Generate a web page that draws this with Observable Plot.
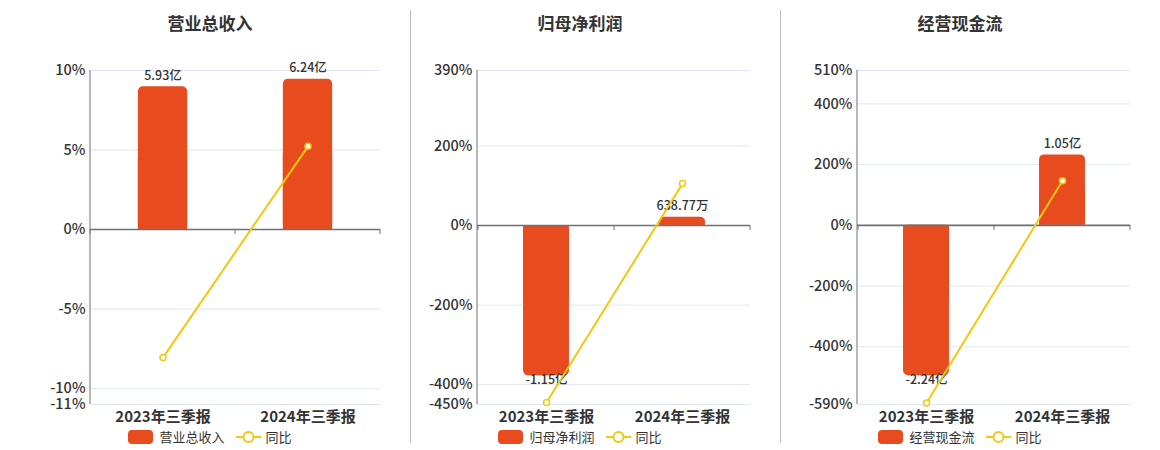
<!DOCTYPE html>
<html>
<head>
<meta charset="utf-8">
<script src="https://cdn.jsdelivr.net/npm/d3@7"></script>
<script src="https://cdn.jsdelivr.net/npm/@observablehq/plot@0.6"></script>
<style>
  html, body { margin: 0; padding: 0; background: #fff; }
  body { width: 1160px; height: 450px; position: relative; overflow: hidden;
         font-family: "Noto Sans CJK SC", "Noto Sans", sans-serif; color: #333; }
  .panel { position: absolute; top: 0; width: 342px; height: 450px; }
  .title { position: absolute; top: 10px; left: 0; width: 340px; text-align: center;
           font-size: 17px; font-weight: 700; color: #333; }
  .chart { position: absolute; top: 40px; left: 0; }
  .legend { position: absolute; top: 427px; left: 0; width: 340px; display: flex;
            justify-content: center; align-items: center; font-size: 13px; color: #333; }
  .sw { width: 25px; height: 14px; border-radius: 4px; background: #E84C1E; margin-right: 6px; }
  .ln { width: 25px; height: 14px; margin: 0 5px 0 11px; }
  .sep { position: absolute; top: 10px; width: 1px; height: 433px; background: #bdbdbd; }
</style>
</head>
<body>
<div class="sep" style="left:410px"></div>
<div class="sep" style="left:780px"></div>
<script>
const categories = ["2023年三季报", "2024年三季报"];
const titles = ["营业总收入", "归母净利润", "经营现金流"];
const barValues1 = [5.93, 6.24];
const barValues2 = [-1.15, 0.063877];
const barValues3 = [-2.24, 1.05];
const barLabels1 = ["5.93亿", "6.24亿"];
const barLabels2 = ["-1.15亿", "638.77万"];
const barLabels3 = ["-2.24亿", "1.05亿"];
const yoy1 = [-8.05, 5.23];
const yoy2 = [-445, 105.56];
const yoy3 = [-585, 146.88];
const yTicks1 = [10, 5, 0, -5, -10, -11];
const yTicks2 = [390, 200, 0, -200, -400, -450];
const yTicks3 = [510, 400, 200, 0, -200, -400, -590];

const BAR = "#E84C1E", LINE = "#F2C811", AXIS = "#6E7079", GRID = "#E0E6F1", TEXT = "#333";
const FONT = '"Noto Sans CJK SC", "Noto Sans", sans-serif';

const panels = [
  {left: 40, ml: 50, title: titles[0], bars: barValues1, labels: barLabels1, yoy: yoy1, ticks: yTicks1},
  {left: 410, ml: 67, title: titles[1], bars: barValues2, labels: barLabels2, yoy: yoy2, ticks: yTicks2},
  {left: 790, ml: 67, title: titles[2], bars: barValues3, labels: barLabels3, yoy: yoy3, ticks: yTicks3}
];

for (const p of panels) {
  const W = 342, H = 390, mt = 30, mb = 26, mr = 2;
  const ymin = d3.min(p.ticks), ymax = d3.max(p.ticks);
  const maxAbs = d3.max(p.bars, v => Math.abs(v));
  const k = 0.45 * (ymax - ymin) / maxAbs; // hidden secondary axis for bars
  const bw = (W - p.ml - mr) / categories.length;
  const inset = bw * 0.33;
  const rows = categories.map((c, i) => ({cat: c, v: p.bars[i], label: p.labels[i], yoy: p.yoy[i]}));
  const pos = rows.filter(d => d.v >= 0), neg = rows.filter(d => d.v < 0);

  const axisMarks = (index, scales, values, dims) => {
    const g = d3.create("svg:g");
    const x0 = dims.marginLeft, x1 = dims.width - dims.marginRight;
    g.append("line").attr("x1", x0).attr("x2", x0)
      .attr("y1", dims.marginTop).attr("y2", dims.height - dims.marginBottom)
      .attr("stroke", AXIS).attr("stroke-width", 1);
    const y0 = scales.y(0);
    const bounds = categories.map(c => scales.x(c));
    bounds.push(x1);
    for (const bx of bounds) {
      g.append("line").attr("x1", bx).attr("x2", bx).attr("y1", y0).attr("y2", y0 + 5)
        .attr("stroke", AXIS).attr("stroke-width", 1);
    }
    return g.node();
  };

  const chart = Plot.plot({
    width: W, height: H,
    marginLeft: p.ml, marginRight: mr, marginTop: mt, marginBottom: mb,
    style: {fontFamily: FONT, color: TEXT, background: "transparent", overflow: "visible"},
    x: {domain: categories, padding: 0, label: null},
    y: {domain: [ymin, ymax], label: null},
    marks: [
      Plot.gridY(p.ticks, {stroke: GRID, strokeOpacity: 1, strokeWidth: 1}),
      Plot.axisY(p.ticks, {tickSize: 0, tickPadding: 5, tickFormat: d => d + "%", fontSize: 14.5, fill: TEXT, fontWeight: 500, label: null}),
      Plot.axisX({tickSize: 0, tickPadding: 7, fontSize: 15, fill: TEXT, fontWeight: 600, label: null}),
      // rounded bars, with the zero-side half squared off
      Plot.barY(rows, {x: "cat", y: d => d.v * k, fill: BAR, insetLeft: inset, insetRight: inset, rx: 5, ry: 5}),
      Plot.barY(rows, {x: "cat", y1: 0, y2: d => d.v * k / 2, fill: BAR, insetLeft: inset, insetRight: inset}),
      Plot.ruleY([0], {stroke: AXIS, strokeWidth: 1.6}),
      axisMarks,
      Plot.text(pos, {x: "cat", y: d => d.v * k, text: "label", dy: -11, fontSize: 12.5, fontWeight: 500, fill: TEXT}),
      Plot.text(neg, {x: "cat", y: d => d.v * k, text: "label", dy: 4, fontSize: 12.5, fontWeight: 500, fill: TEXT}),
      Plot.line(rows, {x: "cat", y: "yoy", stroke: LINE, strokeWidth: 2}),
      Plot.dot(rows, {x: "cat", y: "yoy", r: 3, fill: "#fff", stroke: LINE, strokeWidth: 1.5})
    ]
  });

  const panel = document.createElement("div");
  panel.className = "panel";
  panel.style.left = p.left + "px";
  panel.innerHTML = `<div class="title">${p.title}</div>`;
  const c = document.createElement("div");
  c.className = "chart";
  c.appendChild(chart);
  panel.appendChild(c);
  const lg = document.createElement("div");
  lg.className = "legend";
  lg.innerHTML = `<div class="sw"></div><span>${p.title}</span>
    <svg class="ln" viewBox="0 0 25 14"><line x1="0" x2="25" y1="7" y2="7" stroke="${LINE}" stroke-width="2"/><circle cx="12.5" cy="7" r="5" fill="#fff" stroke="${LINE}" stroke-width="2"/></svg><span>同比</span>`;
  panel.appendChild(lg);
  document.body.appendChild(panel);
}
</script>
</body>
</html>
